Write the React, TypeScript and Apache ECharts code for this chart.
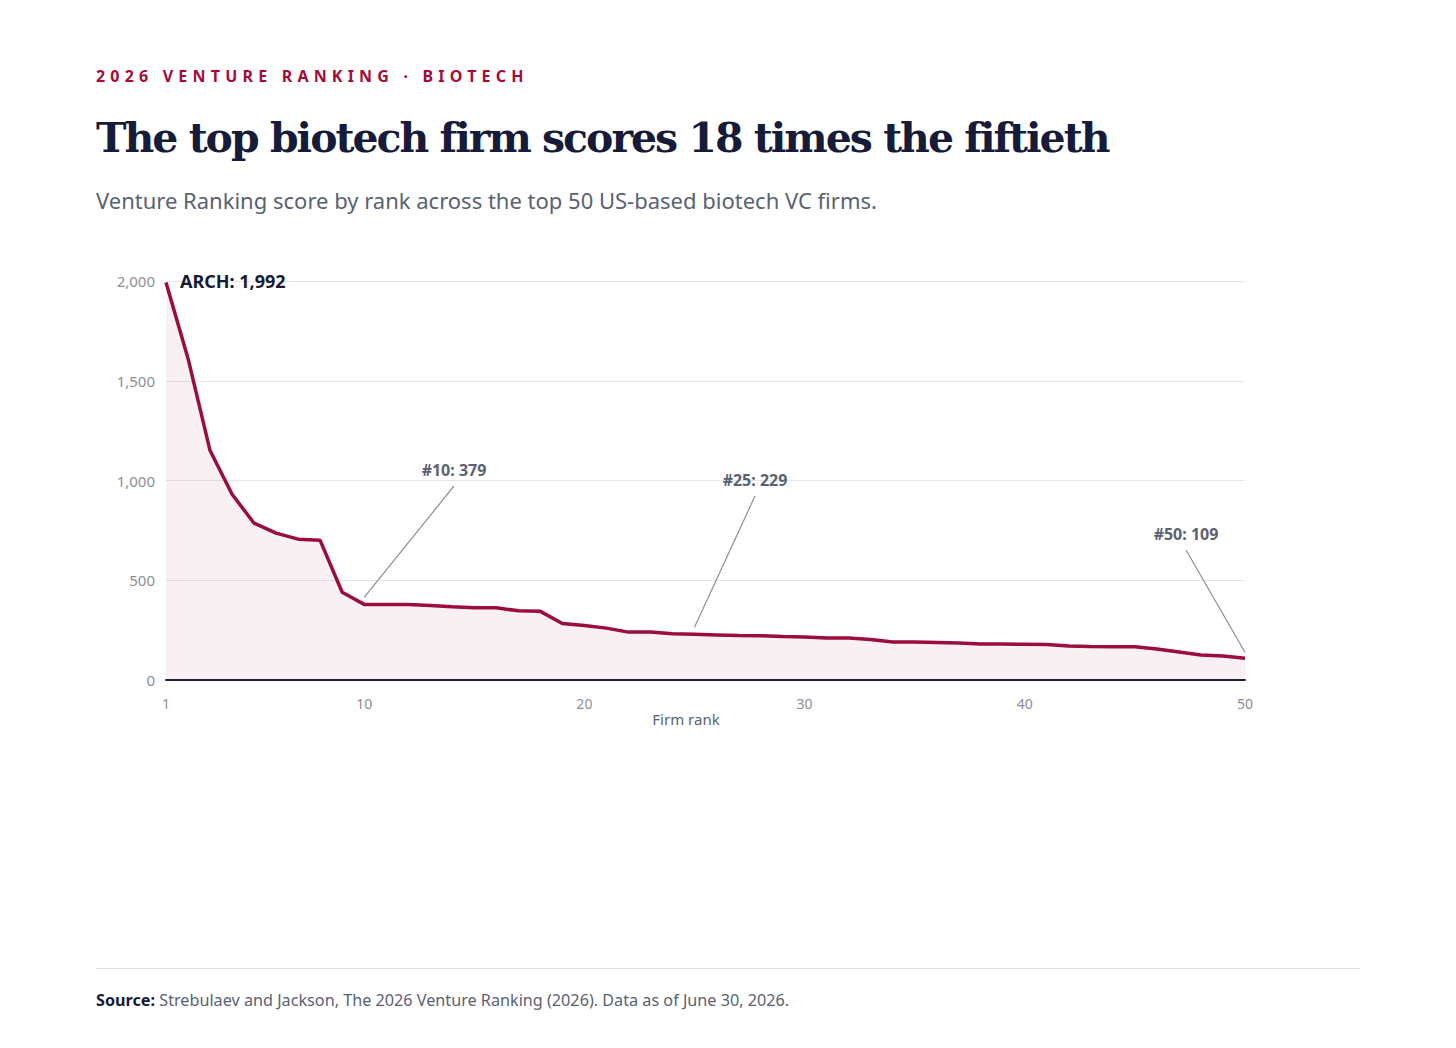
import React, { useEffect, useRef } from "react";
import * as echarts from "echarts";

const ranks = Array.from({ length: 50 }, (_, i) => i + 1);
const scores = [1992, 1612, 1150, 931, 786, 736, 706, 700, 440, 379,
  379, 378, 373, 367, 362, 362, 347, 344, 283, 273,
  260, 240, 240, 232, 229, 226, 223, 222, 218, 215,
  210, 210, 203, 190, 190, 188, 185, 180, 180, 179,
  178, 170, 168, 167, 167, 155, 140, 125, 120, 109];
const xTicks = [1, 10, 20, 30, 40, 50];
const yTicks = [0, 500, 1000, 1500, 2000];
const annotations = [
  { rank: 10, text: "#10: 379", label: [454, 470], off: 7 },
  { rank: 25, text: "#25: 229", label: [755, 480], off: 7 },
  { rank: 50, text: "#50: 109", label: [1186, 534], off: 6 },
];

export default function App() {
  const ref = useRef<HTMLDivElement>(null);
  useEffect(() => {
    document.body.style.margin = "0";
    const chart = echarts.init(ref.current!, null, { renderer: "svg" });
    const base: any = {
      animation: false,
      grid: { left: 166, right: 211, top: 281, bottom: 368 },
      xAxis: {
        type: "value", min: 1, max: 50,
        axisLine: { show: true, onZero: false, lineStyle: { color: "#1f2033", width: 2 } },
        axisTick: { show: false },
        splitLine: { show: false },
        axisLabel: { customValues: xTicks, color: "#8a8f99", fontSize: 14, fontFamily: "Noto Sans", margin: 16 },
      },
      yAxis: {
        type: "value", min: 0, max: 2000, interval: 500,
        axisLine: { show: false }, axisTick: { show: false },
        splitLine: { lineStyle: { color: "#e6e6e6" } },
        axisLabel: { color: "#8a8f99", fontSize: 15, fontFamily: "Noto Sans", margin: 11,
          formatter: (v: number) => (yTicks.includes(v) ? v.toLocaleString("en-US") : "") },
      },
      series: [{
        type: "line", data: ranks.map((r, i) => [r, scores[i]]),
        symbol: "none", lineStyle: { color: "#9b0d3a", width: 3.5 },
        areaStyle: { color: "rgba(165,12,58,0.09)" },
      }],
    };
    chart.setOption(base);
    const g: any[] = [];
    const p1 = chart.convertToPixel({ gridIndex: 0 } as any, [1, scores[0]]) as number[];
    g.push({ type: "text", x: p1[0] + 14, y: p1[1] - 2, style: { text: "ARCH: 1,992", fill: "#171a33",
      font: "bold 18px 'Noto Sans'", verticalAlign: "middle" } });
    g.push({ type: "text", x: 686, y: 719, style: { text: "Firm rank", fill: "#5a6270",
      font: "15px 'Noto Sans'", align: "center", verticalAlign: "middle" } });
    annotations.forEach((a) => {
      const p = chart.convertToPixel({ gridIndex: 0 } as any, [a.rank, scores[a.rank - 1]]) as number[];
      g.push({ type: "text", x: a.label[0], y: a.label[1], style: { text: a.text, fill: "#5a6270",
        font: "bold 16px 'Noto Sans'", align: "center", verticalAlign: "middle" } });
      g.push({ type: "line", shape: { x1: a.label[0], y1: a.label[1] + 16, x2: p[0], y2: p[1] - a.off },
        style: { stroke: "#8a8f99", lineWidth: 1.2 } });
    });
    chart.setOption({ graphic: g });
    return () => chart.dispose();
  }, []);
  const t: React.CSSProperties = { position: "absolute", left: 96, margin: 0, whiteSpace: "nowrap" };
  return (
    <div style={{ position: "relative", width: 1456, height: 1048, background: "#fff", fontFamily: "'Noto Sans', sans-serif" }}>
      <div ref={ref} style={{ position: "absolute", left: 0, top: 0, width: 1456, height: 1048 }} />
      <div style={{ ...t, top: 65, color: "#a50c3a", fontWeight: 700, fontSize: 16, letterSpacing: 5.2 }}>2026 VENTURE RANKING · BIOTECH</div>
      <div style={{ ...t, top: 114, color: "#161b3a", fontWeight: 700, fontSize: 41, fontFamily: "'DejaVu Serif', serif", letterSpacing: -2 }}>The top biotech firm scores 18 times the fiftieth</div>
      <div style={{ ...t, top: 185, color: "#5a6270", fontSize: 22 }}>Venture Ranking score by rank across the top 50 US-based biotech VC firms.</div>
      <div style={{ position: "absolute", left: 96, top: 968, width: 1264, height: 1, background: "#e0e0e0" }} />
      <div style={{ ...t, top: 989, color: "#5a6270", fontSize: 16.2 }}><b style={{ color: "#161b3a" }}>Source:</b> Strebulaev and Jackson, The 2026 Venture Ranking (2026). Data as of June 30, 2026.</div>
    </div>
  );
}
